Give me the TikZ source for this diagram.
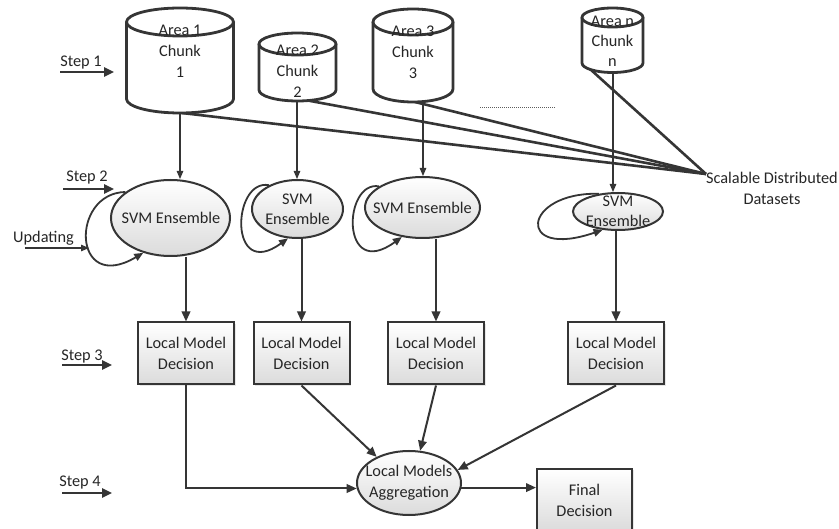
\documentclass[tikz,border=0pt]{standalone}
\usepackage{fontspec}
\setmainfont{Carlito}
\usetikzlibrary{arrows.meta,shapes.geometric,calc,shadows}
\definecolor{ln}{HTML}{353535}
\definecolor{tx}{HTML}{262626}
\newcommand\mycyl[5]{%
  \fill[white] (#1-#4,#2) -- (#1-#4,#3) arc[start angle=180,end angle=0,x radius=#4,y radius=#5] -- (#1+#4,#2) -- cycle;
  \draw[cyl] (#1-#4,#2) -- (#1-#4,#3) arc[start angle=180,end angle=0,x radius=#4,y radius=#5] -- (#1+#4,#2);
  \draw[cyl] (#1,#2) ellipse[x radius=#4,y radius=#5];}
\begin{document}
\begin{tikzpicture}[x=1pt,y=-1pt,
  every node/.style={font=\fontsize{16.3}{21}\selectfont, text=tx, align=center, inner sep=0pt},
  cyl/.style={draw=ln, line width=2.8pt, fill=white},
  svm/.style={ellipse, draw=ln, line width=2pt, top color=white, bottom color=black!14},
  lmd/.style={rectangle, draw=ln, line width=2pt, top color=white, bottom color=black!14,
    minimum width=96pt, minimum height=62pt,
    drop shadow={shadow xshift=1.5pt, shadow yshift=-1.5pt, fill=black!18}},
  thinarr/.style={draw=ln, line width=1.1pt, -{Triangle[length=8pt,width=6.5pt]}},
  thickarr/.style={draw=ln, line width=2pt, -{Triangle[length=10pt,width=8.5pt]}},
  stepar/.style={draw=ln, line width=2.4pt, -{Triangle[length=10pt,width=9pt]}},
  updloop/.style={draw=ln, line width=1.8pt, -{Triangle[length=9pt,width=7.5pt]}},
  feed/.style={draw=ln, line width=2.6pt},
]
\clip (0,0) rectangle (839,529);
\fill[white] (0,0) rectangle (839,529);

% coordinates for connector ends
\coordinate (f1) at (182,113);
\coordinate (f2) at (305,100);
\coordinate (f3) at (415,102);
\coordinate (fn) at (590,69);
\coordinate (sddp) at (706,174);
\coordinate (cb1) at (180,113);
\coordinate (cb2) at (297,101);
\coordinate (cb3) at (423,101.6);
\coordinate (cbn) at (613,72.5);

% feed lines to datasets
\draw[feed] (f1) -- (sddp);
\draw[feed] (f2) -- (sddp);
\draw[feed] (f3) -- (sddp);
\draw[feed] (fn) -- (sddp);

% cylinders
\mycyl{180}{22}{99}{53.5}{14}
\mycyl{297.5}{44}{90}{38.5}{11}
\mycyl{413}{22}{89}{40}{13}
\mycyl{612.5}{17.5}{63}{30.5}{9.5}
\node (t1) at (180,51) {Area 1\\Chunk\\1};
\node (t2) at (297.5,71) {Area 2\\Chunk\\2};
\node (t3) at (413,52) {Area 3\\Chunk\\3};
\node[font=\fontsize{16.3}{20}\selectfont] (tn) at (612.5,41) {Area n\\Chunk\\n};

% dotted ellipsis line
\coordinate (dl1) at (480,107);
\coordinate (dl2) at (556,107);
\draw[ln!80, line width=0.8pt, dash pattern=on 1pt off 1pt] (dl1) -- (dl2);

% datasets label
\node (sdd) at (772,188.5) {Scalable Distributed\\Datasets};

% SVM ensembles
\node[svm, minimum width=119pt, minimum height=76pt] (e1) at (170.5,218) {};
\node[svm, minimum width=91pt, minimum height=58pt] (e2) at (297.5,209) {};
\node[svm, minimum width=115pt, minimum height=61pt] (e3) at (422.5,207.5) {};
\node[svm, minimum width=90pt, minimum height=37pt] (e4) at (618,211.5) {};
\node (e1t) at (171,218) {SVM Ensemble};
\node[font=\fontsize{16.3}{20}\selectfont] (e2t) at (297.5,209.5) {SVM\\Ensemble};
\node (e3t) at (422.5,208) {SVM Ensemble};
\node[font=\fontsize{16.3}{19.5}\selectfont] (e4t) at (618,211.5) {SVM\\Ensemble};

% thin arrows from chunks
\draw[thinarr] (cb1) -- (cb1 |- e1.north);
\draw[thinarr] (cb2) -- (cb2 |- e2.north);
\draw[thinarr] (cb3) -- (cb3 |- e3.north);
\draw[thinarr] (cbn) -- (cbn |- e4.north);

% updating loops
\draw[updloop] (e1.150) .. controls (70,193) and (72,295) .. (e1.-128);
\draw[updloop] (e2.140) .. controls (232,178) and (228,282) .. (e2.-108);
\draw[updloop] (e3.154) .. controls (343,180) and (340,282) .. (e3.-125);
\draw[updloop] (e4.137) .. controls (522,192) and (515,260) .. (e4.-130);

% updating label
\node (upd) at (43.5,238) {Updating};
\coordinate (u1) at (25,248);
\coordinate (u2) at (89,248);
\draw[draw=ln, line width=1.3pt, -{Triangle[length=8pt,width=6.5pt]}] (u1) -- (u2);

% local model decisions
\node[lmd] (b1) at (186,353.5) {Local Model\\Decision};
\node[lmd] (b2) at (301.5,353.5) {Local Model\\Decision};
\node[lmd] (b3) at (436,353.5) {Local Model\\Decision};
\node[lmd] (b4) at (616,353.5) {Local Model\\Decision};

\draw[thickarr] (e1.south -| b1.north) -- (b1.north);
\draw[thickarr] (e2.south -| b2.north) -- (b2.north);
\draw[thickarr] (e3.south -| b3.north) -- (b3.north);
\draw[thickarr] (e4.south -| b4.north) -- (b4.north);

% aggregation and final decision
\node[svm, minimum width=104pt, minimum height=64pt] (agg) at (409,483) {};
\node (aggt) at (409,483) {Local Models\\Aggregation};
\node[lmd, minimum width=95pt, minimum height=62pt] (fin) at (584.5,500) {Final\\Decision};

\draw[thickarr] (b1.south) |- (agg.186);
\draw[thickarr] (b2.south) -- (agg.141);
\draw[thickarr] (b3.south) -- (agg.71);
\draw[thickarr] (b4.south) -- (agg.15);
\draw[thickarr] (agg.-5) -- (agg.-5 -| fin.west);

% step labels
\node (s1) at (81,63) {Step 1};
\node (s2) at (87,178) {Step 2};
\node (s3) at (82,357) {Step 3};
\node (s4) at (80,483) {Step 4};
\coordinate (s1a) at (60,72);  \coordinate (s1b) at (114,72);
\coordinate (s2a) at (63,189); \coordinate (s2b) at (114,189);
\coordinate (s3a) at (62,365); \coordinate (s3b) at (112,365);
\coordinate (s4a) at (62,493); \coordinate (s4b) at (112,493);
\draw[stepar] (s1a) -- (s1b);
\draw[stepar] (s2a) -- (s2b);
\draw[stepar] (s3a) -- (s3b);
\draw[stepar] (s4a) -- (s4b);
\end{tikzpicture}
\end{document}
